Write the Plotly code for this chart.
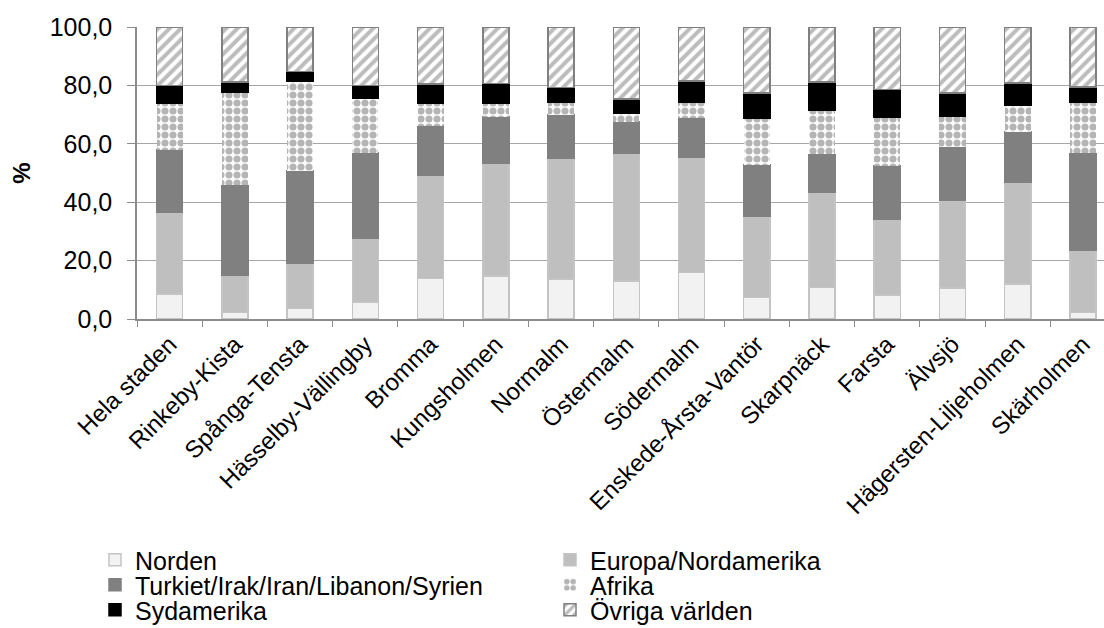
import plotly.graph_objects as go

districts = ["Hela staden", "Rinkeby-Kista", "Spånga-Tensta", "Hässelby-Vällingby", "Bromma",
             "Kungsholmen", "Normalm", "Östermalm", "Södermalm", "Enskede-Årsta-Vantör",
             "Skarpnäck", "Farsta", "Älvsjö", "Hägersten-Liljeholmen", "Skärholmen"]

norden = [8.5, 2.2, 3.6, 5.9, 13.9, 14.7, 13.7, 13.0, 15.9, 7.3, 10.8, 8.3, 10.6, 12.0, 2.2]
europa = [28.1, 12.8, 15.4, 21.7, 35.2, 38.7, 41.4, 43.6, 39.5, 27.9, 32.5, 25.9, 30.0, 35.0, 21.3]
turkiet = [21.4, 30.8, 31.7, 29.3, 16.9, 15.8, 14.7, 10.9, 13.3, 17.7, 13.1, 18.2, 18.2, 17.1, 33.2]
afrika = [15.9, 32.0, 30.8, 18.6, 7.8, 4.8, 4.6, 2.8, 5.7, 16.0, 15.1, 16.8, 10.6, 9.0, 17.4]
sydamerika = [6.1, 3.4, 3.3, 4.5, 6.6, 6.6, 4.9, 5.0, 7.1, 8.5, 9.6, 9.4, 8.0, 7.8, 5.4]
ovriga = [20.0, 18.8, 15.2, 20.0, 19.6, 19.4, 20.7, 24.7, 18.5, 22.6, 18.9, 21.4, 22.6, 19.1, 20.5]

series_names = ["Norden", "Europa/Nordamerika", "Turkiet/Irak/Iran/Libanon/Syrien",
                "Afrika", "Sydamerika", "Övriga världen"]
series_values = [norden, europa, turkiet, afrika, sydamerika, ovriga]

W, H = 1104, 628
L, R, T, B = 137, 0, 27, 309
PW, PH = W - L - R, H - T - B

styles = [
    dict(color="#f2f2f2", line=dict(color="#c4c4c4", width=1.5)),
    dict(color="#bfbfbf", line=dict(color="#c4c4c4", width=1.5)),
    dict(color="#808080", line=dict(color="#808080", width=1.5)),
    dict(color="white", line=dict(color="white", width=0),
         pattern=dict(shape=".", fgcolor="#6a6a6a", bgcolor="white", size=8, solidity=0.62,
                      fillmode="overlay")),
    dict(color="black", line=dict(color="black", width=1.5)),
    dict(color="white", line=dict(color="#808080", width=1.5),
         pattern=dict(shape="/", fgcolor="#7a7a7a", bgcolor="white", size=8, solidity=0.5,
                      fillmode="overlay")),
]

# legend anchor positions in pixels (text start x, row centre y)
leg_px = [(135, 560), (590, 560), (135, 585), (590, 585), (135, 610), (590, 610)]
legend_ids = ["legend", "legend2", "legend3", "legend4", "legend5", "legend6"]

fig = go.Figure()
for name, vals, st, lid in zip(series_names, series_values, styles, legend_ids):
    fig.add_trace(go.Bar(x=districts, y=vals, name=name, marker=st, legend=lid,
                         hoverinfo="skip"))

legend_layout = {}
for lid, (px, py) in zip(legend_ids, leg_px):
    legend_layout[lid] = dict(
        x=(px - 40 - L) / PW, y=(H - B - py) / PH, xanchor="left", yanchor="middle",
        font=dict(family="Liberation Sans, Arial", size=25, color="black"),
        bgcolor="rgba(0,0,0,0)", borderwidth=0, itemclick=False,
    )

fig.update_layout(
    width=W, height=H,
    margin=dict(l=L, r=R, t=T, b=B, autoexpand=False),
    barmode="stack", bargap=0.6,
    plot_bgcolor="white", paper_bgcolor="white",
    separators=", ",
    showlegend=True,
    xaxis=dict(
        type="category", range=[-0.5, -0.5 + PW / 65.24],
        tickangle=-45, tickson="boundaries", ticks="outside", ticklen=6,
        tickcolor="#8c8c8c", tickwidth=1.3,
        showline=True, linecolor="#8c8c8c", linewidth=1.5,
        showgrid=False, automargin=False,
        tickfont=dict(family="Liberation Sans, Arial", size=24, color="black"),
    ),
    yaxis=dict(
        range=[0, 100], dtick=20, tickformat=".1f",
        ticks="outside", ticklen=8, tickcolor="#8c8c8c", tickwidth=1.3,
        showline=True, linecolor="#8c8c8c", linewidth=1.5,
        showgrid=True, gridcolor="#a6a6a6", gridwidth=1.3,
        zeroline=False, automargin=False, ticklabelstandoff=10,
        tickfont=dict(family="Liberation Sans, Arial", size=25, color="black"),
        title=dict(text="<b>%</b>", standoff=12,
                   font=dict(family="Liberation Sans, Arial", size=24, color="black")),
    ),
    **legend_layout,
)

fig.write_html("out.html", config={"displayModeBar": False},
               post_script="document.body.style.margin='0';")
